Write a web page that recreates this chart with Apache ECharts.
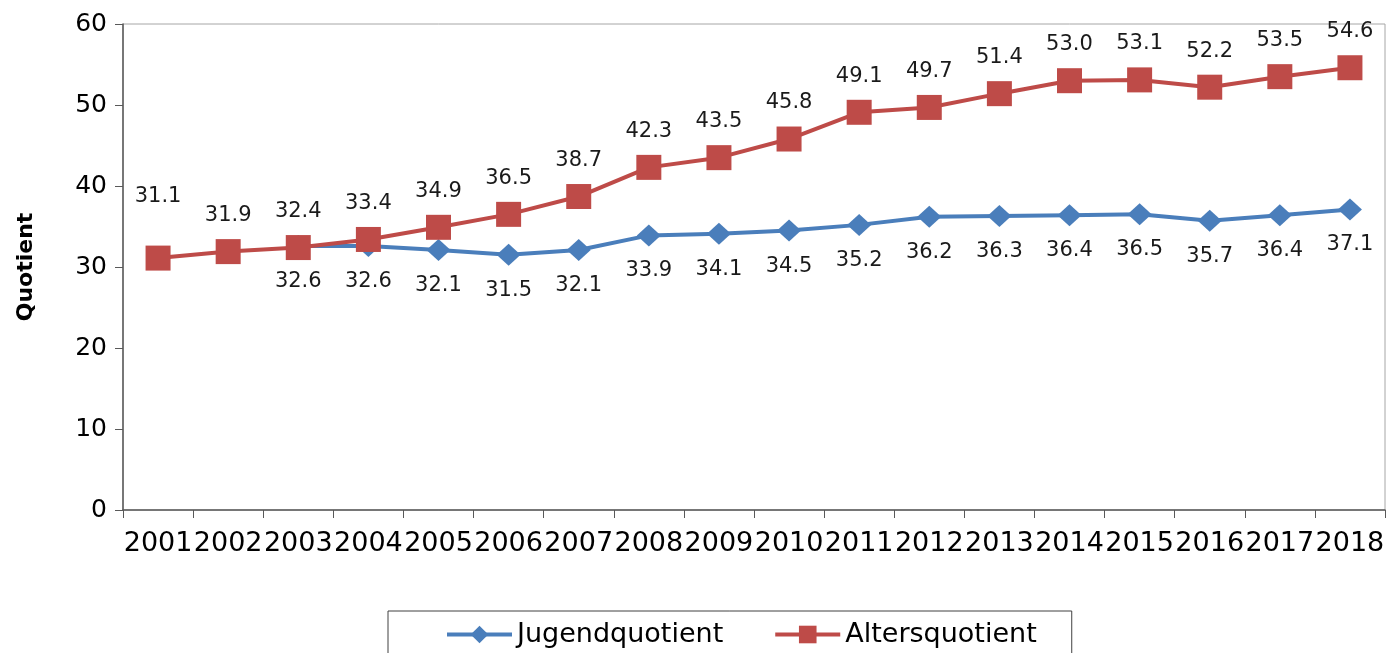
<!DOCTYPE html>
<html><head><meta charset="utf-8">
<script src="https://cdn.jsdelivr.net/npm/echarts@6/dist/echarts.min.js"></script>
<style>html,body{margin:0;padding:0;background:#fff}#c{width:1390px;height:653px}</style>
</head><body><div id="c"></div>
<script>
const years = ['2001','2002','2003','2004','2005','2006','2007','2008','2009','2010','2011','2012','2013','2014','2015','2016','2017','2018'];
const jugend = [null,null,32.6,32.6,32.1,31.5,32.1,33.9,34.1,34.5,35.2,36.2,36.3,36.4,36.5,35.7,36.4,37.1];
const alters = [31.1,31.9,32.4,33.4,34.9,36.5,38.7,42.3,43.5,45.8,49.1,49.7,51.4,53.0,53.1,52.2,53.5,54.6];
const yTicks = [0,10,20,30,40,50,60];

const FONT = 'DejaVu Sans';
const chart = echarts.init(document.getElementById('c'));
const altersData = alters.map((v,i)=> i===0 ? {value:v, label:{offset:[0,-26]}} : v);
chart.setOption({
  animation:false,
  grid:{left:123,right:5,top:24,bottom:143,show:true,borderColor:'#a6a6a6',borderWidth:1,containLabel:false},
  legend:{
    left:388, top:611,
    padding:[10,35,30,57],
    borderColor:'#404040', borderWidth:1,
    itemWidth:65, itemHeight:22, itemGap:50,
    lineStyle:{width:4},
    textStyle:{fontFamily:FONT,fontSize:27,color:'#000'},
    data:['Jugendquotient','Altersquotient']
  },
  xAxis:{
    type:'category', data:years, boundaryGap:true,
    axisLine:{lineStyle:{color:'#595959',width:1.5}},
    axisTick:{show:true,length:8,interval:0,lineStyle:{color:'#595959'}},
    axisLabel:{fontFamily:FONT,fontSize:27,color:'#000',margin:20,interval:0}
  },
  yAxis:{
    type:'value', min:yTicks[0], max:yTicks[yTicks.length-1], interval:10,
    name:'Quotient', nameLocation:'middle', nameGap:86,
    nameTextStyle:{fontFamily:FONT,fontSize:22,fontWeight:'bold',color:'#000'},
    axisLine:{show:true,lineStyle:{color:'#595959',width:1.5}},
    axisTick:{show:true,length:8,lineStyle:{color:'#595959'}},
    splitLine:{show:false},
    axisLabel:{fontFamily:FONT,fontSize:25,color:'#000',margin:16}
  },
  series:[
    {name:'Jugendquotient',type:'line',data:jugend,
     symbol:'diamond',symbolSize:[24,22],
     lineStyle:{color:'#4A7EBB',width:4},
     itemStyle:{color:'#4A7EBB'},
     label:{show:true,position:'bottom',distance:14,fontFamily:FONT,fontSize:21,color:'#1a1a1a',formatter:p=>p.value.toFixed(1)},
     z:2},
    {name:'Altersquotient',type:'line',data:altersData,
     symbol:'rect',symbolSize:25,
     lineStyle:{color:'#BE4B48',width:4},
     itemStyle:{color:'#BE4B48'},
     label:{show:true,position:'top',distance:13,fontFamily:FONT,fontSize:21,color:'#1a1a1a',formatter:p=>Number(p.value).toFixed(1)},
     z:3}
  ]
});
</script></body></html>
